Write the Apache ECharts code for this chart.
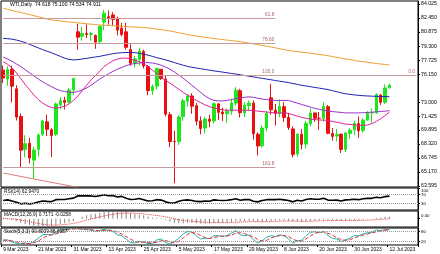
<!DOCTYPE html>
<html><head><meta charset="utf-8">
<script src="https://cdn.jsdelivr.net/npm/echarts@6/dist/echarts.min.js"></script>
<style>html,body{margin:0;padding:0;background:#fff}#c{width:440px;height:254px}</style>
</head><body><div id="c"></div><script>
const dates = ['9 Mar 2023','10 Mar 2023','13 Mar 2023','14 Mar 2023','15 Mar 2023','16 Mar 2023','17 Mar 2023','20 Mar 2023','21 Mar 2023','22 Mar 2023','23 Mar 2023','24 Mar 2023','27 Mar 2023','28 Mar 2023','29 Mar 2023','30 Mar 2023','31 Mar 2023',
'3 Apr 2023','4 Apr 2023','5 Apr 2023','6 Apr 2023','10 Apr 2023','11 Apr 2023','12 Apr 2023','13 Apr 2023','14 Apr 2023','17 Apr 2023','18 Apr 2023','19 Apr 2023','20 Apr 2023','21 Apr 2023','24 Apr 2023','25 Apr 2023','26 Apr 2023','27 Apr 2023','28 Apr 2023',
'1 May 2023','2 May 2023','3 May 2023','4 May 2023','5 May 2023','8 May 2023','9 May 2023','10 May 2023','11 May 2023','12 May 2023','15 May 2023','16 May 2023','17 May 2023','18 May 2023','19 May 2023','22 May 2023','23 May 2023','24 May 2023','25 May 2023','26 May 2023','29 May 2023','30 May 2023','31 May 2023',
'1 Jun 2023','2 Jun 2023','5 Jun 2023','6 Jun 2023','7 Jun 2023','8 Jun 2023','9 Jun 2023','12 Jun 2023','13 Jun 2023','14 Jun 2023','15 Jun 2023','16 Jun 2023','19 Jun 2023','20 Jun 2023','21 Jun 2023','22 Jun 2023','23 Jun 2023','26 Jun 2023','27 Jun 2023','28 Jun 2023','29 Jun 2023','30 Jun 2023',
'3 Jul 2023','4 Jul 2023','5 Jul 2023','6 Jul 2023','7 Jul 2023','10 Jul 2023','11 Jul 2023','12 Jul 2023'];

const opens  = [76.60,75.60,76.70,74.50,71.40,67.70,68.40,66.50,67.70,69.40,70.80,69.90,69.40,72.70,73.20,73.00,74.40,
80.90,80.40,80.70,80.60,80.50,79.80,82.00,82.60,82.80,82.40,81.30,80.90,78.90,77.40,77.80,78.70,77.00,74.30,74.80,
76.70,75.60,71.60,68.60,68.60,71.40,73.10,73.70,72.60,70.90,70.10,71.10,70.90,72.80,71.90,71.70,72.00,72.90,74.30,71.80,72.60,72.90,69.40,
68.10,70.10,73.50,72.10,71.70,72.50,71.30,70.00,67.20,69.40,68.30,70.60,71.80,71.20,71.20,72.50,69.50,69.20,69.40,67.70,69.50,69.90,
70.60,69.80,71.00,71.80,71.80,73.80,73.00,74.618];
const highs  = [77.11,77.04,77.09,74.90,71.75,69.30,68.99,68.00,69.50,71.00,71.60,70.08,72.95,73.55,73.62,74.60,75.72,
81.81,81.44,81.75,80.90,80.60,81.60,83.35,83.30,83.10,82.60,81.90,81.90,79.50,78.20,79.13,78.90,77.20,75.00,76.90,
76.70,76.00,71.90,69.80,71.55,73.40,73.90,74.00,72.90,71.40,71.30,71.60,73.00,72.90,72.40,72.30,73.40,74.70,74.50,73.00,73.20,73.20,69.60,
70.40,72.00,75.06,72.80,73.30,73.00,71.80,70.30,69.50,70.00,70.90,72.30,71.80,71.90,73.00,72.70,70.10,70.00,69.50,69.60,70.10,70.90,
71.40,71.20,72.00,72.30,74.00,73.90,75.00,75.100];
const lows   = [75.15,74.84,72.98,70.95,65.65,66.82,66.13,64.40,66.90,69.20,69.20,66.84,69.20,72.20,72.18,72.85,73.80,
78.90,79.90,80.20,79.90,79.00,79.50,81.10,81.70,81.60,80.50,80.40,78.90,77.10,76.90,77.10,76.80,73.80,73.80,74.40,
75.50,71.40,67.95,63.90,68.20,70.90,72.50,71.70,70.40,69.40,69.50,70.20,70.60,71.00,70.90,70.70,71.60,72.60,71.30,71.30,72.00,68.80,67.03,
67.90,69.70,71.60,70.40,71.30,70.80,69.90,66.80,66.90,67.70,67.80,70.30,70.80,69.90,70.80,69.40,68.70,68.60,67.30,67.40,68.90,69.30,
69.00,69.60,70.90,70.70,71.70,72.70,72.80,74.534];
const closes = [75.72,76.68,74.80,71.33,67.61,68.35,66.74,67.64,69.33,70.90,69.96,69.26,72.81,73.20,72.97,74.37,75.67,
80.30,80.71,80.61,80.70,79.74,81.53,83.00,82.40,82.30,81.10,80.60,79.16,77.37,77.87,78.76,77.07,74.30,74.76,76.78,
75.66,71.66,68.60,68.56,71.34,73.16,73.71,72.56,70.87,70.04,71.11,70.86,72.83,71.86,71.69,71.99,72.91,74.34,71.83,72.67,72.90,69.46,68.09,
70.10,71.74,72.15,71.74,72.53,71.29,70.17,67.12,69.42,68.27,70.62,71.78,71.20,71.19,72.53,69.51,69.16,69.37,67.70,69.56,69.86,70.64,
69.79,71.00,71.79,71.80,73.86,72.99,74.60,74.911];

const ma200 = [83.54,83.42,83.30,83.18,83.07,82.95,82.83,82.71,82.59,82.47,82.35,82.23,82.17,82.12,82.06,82.01,81.95,81.90,81.86,81.81,81.76,81.72,81.67,81.64,81.61,81.58,81.56,81.53,81.50,81.47,81.44,81.41,81.38,81.35,81.28,81.21,81.14,81.07,81.00,80.90,80.80,80.70,80.60,80.50,80.43,80.36,80.29,80.22,80.15,80.09,80.03,79.97,79.92,79.86,79.80,79.72,79.63,79.55,79.47,79.38,79.30,79.20,79.10,79.00,78.90,78.80,78.74,78.68,78.62,78.56,78.50,78.43,78.37,78.30,78.21,78.13,78.04,77.95,77.86,77.78,77.69,77.60,77.54,77.48,77.41,77.35,77.29,77.23,77.17];
const ma100 = [80.17,80.13,80.08,79.98,79.85,79.70,79.50,79.30,79.10,78.90,78.72,78.55,78.35,78.15,77.95,77.80,77.75,77.78,77.85,77.92,78.00,78.08,78.15,78.25,78.35,78.45,78.52,78.56,78.58,78.58,78.56,78.50,78.40,78.28,78.15,78.00,77.88,77.75,77.60,77.45,77.30,77.15,77.02,76.92,76.84,76.76,76.68,76.60,76.52,76.45,76.38,76.30,76.23,76.16,76.08,76.00,75.92,75.84,75.76,75.68,75.60,75.52,75.44,75.36,75.28,75.20,75.10,75.00,74.90,74.82,74.74,74.66,74.58,74.50,74.42,74.30,74.18,74.05,73.95,73.88,73.82,73.77,73.73,73.70,73.68,73.66,73.64,73.63,73.62];
const maViolet = [78.07,77.85,77.60,77.30,77.00,76.65,76.30,75.95,75.60,75.30,75.00,74.75,74.50,74.30,74.20,74.12,74.10,74.20,74.37,74.60,74.90,75.25,75.60,75.90,76.20,76.45,76.70,76.90,77.10,77.25,77.35,77.40,77.45,77.45,77.40,77.30,77.15,76.95,76.70,76.40,76.05,75.70,75.30,74.90,74.50,74.10,73.70,73.40,73.20,73.15,73.15,73.20,73.30,73.40,73.50,73.55,73.60,73.55,73.45,73.35,73.30,73.25,73.20,73.20,73.20,73.20,73.05,72.90,72.75,72.60,72.45,72.30,72.20,72.10,72.00,71.95,71.90,71.85,71.80,71.80,71.80,71.80,71.82,71.85,71.88,71.92,71.96,72.00,72.05];
const maMagenta = [77.55,77.25,76.85,76.30,75.65,75.00,74.40,73.80,73.30,72.90,72.60,72.40,72.35,72.40,72.55,72.80,73.20,73.70,74.30,74.90,75.50,76.00,76.50,77.00,77.35,77.65,77.85,77.95,77.95,77.85,77.70,77.55,77.30,77.00,76.60,76.20,75.80,75.45,75.15,74.80,74.45,74.10,73.80,73.50,73.20,72.95,72.70,72.50,72.35,72.25,72.15,72.10,72.10,72.10,72.10,72.10,72.10,72.05,72.00,71.95,71.90,71.85,71.80,71.80,71.80,71.75,71.60,71.45,71.30,71.20,71.10,71.05,71.00,71.00,70.95,70.85,70.75,70.65,70.55,70.50,70.45,70.40,70.40,70.45,70.60,70.85,71.15,71.50,71.90];

const rsi = [43,46,41,35,28,31,28,31,36,41,39,38,47,48,48,51,54,64,64,64,64,61,65,69,65,66,59,62,53,48,49,52,47,41,42,47,45,37,32,32,40,44,46,43,39,38,41,40,46,44,43,44,47,51,44,47,48,40,37,43,47,48,47,49,46,43,37,44,41,48,51,49,49,53,45,44,45,41,46,47,49,47,51,53,53,58,56,61,62.947];
const macdMain = [-0.25,-0.30,-0.45,-0.80,-1.35,-1.70,-2.05,-2.55,-2.69,-2.60,-2.50,-2.45,-2.10,-1.75,-1.45,-1.10,-0.75,0.00,0.60,1.05,1.40,1.55,1.80,2.10,2.25,2.45,2.35,2.30,2.10,1.75,1.50,1.35,1.10,0.70,0.40,0.30,0.10,-0.35,-0.95,-1.40,-1.50,-1.45,-1.35,-1.35,-1.45,-1.55,-1.55,-1.55,-1.40,-1.35,-1.30,-1.25,-1.10,-0.85,-0.85,-0.75,-0.65,-0.85,-1.10,-1.10,-0.95,-0.80,-0.70,-0.55,-0.55,-0.65,-0.95,-0.95,-1.05,-0.90,-0.70,-0.60,-0.50,-0.35,-0.45,-0.55,-0.60,-0.75,-0.70,-0.60,-0.50,-0.45,-0.30,-0.15,-0.05,0.25,0.35,0.60,0.7171];
const macdSignal = [0.10,0.02,-0.07,-0.21,-0.44,-0.69,-0.96,-1.28,-1.56,-1.80,-1.98,-2.10,-2.10,-2.02,-1.90,-1.74,-1.55,-1.24,-0.87,-0.48,-0.10,0.24,0.55,0.86,1.14,1.39,1.58,1.73,1.80,1.79,1.73,1.65,1.54,1.37,1.17,1.00,0.82,0.59,0.28,-0.06,-0.35,-0.57,-0.73,-0.85,-0.97,-1.09,-1.18,-1.26,-1.29,-1.30,-1.30,-1.29,-1.25,-1.17,-1.11,-1.04,-0.96,-0.94,-0.97,-1.00,-0.99,-0.95,-0.90,-0.83,-0.77,-0.75,-0.79,-0.82,-0.87,-0.88,-0.84,-0.79,-0.73,-0.66,-0.62,-0.60,-0.60,-0.63,-0.64,-0.63,-0.60,-0.57,-0.52,-0.47,-0.41,-0.33,-0.23,-0.13,-0.0258];
const stochMain = [25,30,18,10,5,12,8,20,40,60,62,58,75,88,90,95,97,95,93,90,88,80,85,92,85,80,60,55,35,15,12,22,18,8,10,30,35,15,5,20,40,65,80,75,55,35,40,38,55,55,50,55,70,85,60,55,58,30,12,25,45,55,50,60,55,35,12,25,28,55,75,78,72,80,55,40,35,20,30,40,55,55,65,72,75,88,85,90,90.8009];
const stochSignal = [30,28,24,19,11,9,8,13,23,40,54,60,65,74,84,91,94,96,95,93,90,86,84,86,87,86,75,65,50,35,21,16,17,16,12,16,25,27,18,13,22,42,62,73,70,55,43,38,44,49,53,53,58,70,72,67,58,48,33,22,27,42,50,55,55,50,34,24,22,36,53,69,75,77,69,58,43,32,28,30,42,50,58,64,71,78,83,88,88.6957];

const priceTicks = ['84.025','82.450','80.875','79.300','77.725','76.150','73.000','71.425','69.895','68.320','66.745','65.170','63.595'];
const rsiTicks = ['100','70','30','0'];
const macdTicks = ['2.4529','0.00','-2.6894'];
const stochTicks = ['100','80','20'];
const fibLevels = [82.45, 79.65, 76.00, 65.73];
const fibLabels = ['61.8','78.60','100.0','161.8'];
const fibRight = {level: 76.05, label: '0.0'};
const trendLine = [[0, 65.05], [17, 63.44]];
const header = 'WTI,Daily  74.618 75.100 74.534 74.911';
const lastPrice = 74.911;

const EXTRA = 6;
const cats = dates.concat(new Array(EXTRA).fill(''));
const candle = dates.map((d, i) => [opens[i], closes[i], lows[i], highs[i]]);

const FONT = 'Liberation Sans';
const GL = 1, GR = 22;
const grids = [
  {left: GL, right: GR, top: 1, height: 186},
  {left: GL, right: GR, top: 188, height: 22},
  {left: GL, right: GR, top: 211, height: 16},
  {left: GL, right: GR, top: 228, height: 17}
].map(g => Object.assign(g, {show: true, borderColor: '#000', borderWidth: 1, backgroundColor: '#fff'}));

const labelInterval = (idx) => idx % 8 === 0 && idx < dates.length;
function xAx(i, showLabels) {
  return {
    type: 'category', gridIndex: i, data: cats, boundaryGap: true,
    axisLine: {show: false},
    axisTick: {show: showLabels, length: 2, interval: labelInterval, lineStyle: {color: '#000'}},
    axisLabel: {show: showLabels, interval: labelInterval, align: 'left', margin: 2,
      fontFamily: FONT, fontSize: 5, color: '#000'},
    splitLine: {show: false}
  };
}
// per-label vertical nudge (px) mimicking the squeezed labels of the indicator windows
function yAx(i, min, max, ticks, size, shifts) {
  const rich = {};
  ticks.forEach((t, j) => {
    const s = (shifts && shifts[j]) || 0;
    rich['t' + j] = {fontFamily: FONT, fontSize: size, color: '#000',
      padding: s >= 0 ? [2 * s, 0, 0, 0] : [0, 0, -2 * s, 0]};
  });
  return {
    type: 'value', gridIndex: i, position: 'right', min: min, max: max,
    axisLine: {show: true, lineStyle: {color: '#000'}},
    axisTick: {show: true, length: 2, customValues: ticks.map(Number), lineStyle: {color: '#000'}},
    axisLabel: {show: true, margin: 3, customValues: ticks.map(Number), fontFamily: FONT, fontSize: size, color: '#000',
      rich: rich,
      formatter: (v) => { let bj = 0, bd = 1e9; ticks.forEach((t, j) => { const d = Math.abs(Number(t) - v); if (d < bd) { bd = d; bj = j; } }); return '{t' + bj + '|' + ticks[bj] + '}'; }},
    splitLine: {show: false}
  };
}

const k = 0.11225;
const TT = {fontFamily: FONT, fontSize: 4.8, color: '#000', fontWeight: 'normal'};
const option = {
  animation: false,
  backgroundColor: '#fff',
  grid: grids,
  xAxis: [xAx(0, false), xAx(1, false), xAx(2, false), xAx(3, true)],
  yAxis: [
    yAx(0, 63.595 - k, 84.025 + 3 * k, priceTicks, 5.2, null),
    yAx(1, 0, 100, rsiTicks, 4.4, [2.7, 0, 0, -4.5]),
    yAx(2, -2.6894, 2.4529, macdTicks, 4.4, [2, -2.4, -7.5]),
    yAx(3, 0, 100, stochTicks, 4.4, [1.5, 0, 0])
  ],
  title: [
    {text: header, left: 10, top: 2, padding: 0, textStyle: Object.assign({}, TT, {fontSize: 5.1})},
    {text: 'RSI(14) 62.9470', left: 4, top: 189, padding: 0, textStyle: TT},
    {text: 'MACD(12,26,9) 0.7171 -0.0258', left: 4, top: 212, padding: 0, textStyle: TT},
    {text: 'Stoch(5,3,3) 90.8009 88.6957', left: 4, top: 229, padding: 0, textStyle: TT}
  ],
  series: [
    {type: 'line', xAxisIndex: 0, yAxisIndex: 0, data: [], silent: true,
      markLine: {symbol: 'none', silent: true, animation: false,
        lineStyle: {color: '#c99a9a', width: 1, type: 'solid'},
        label: {show: true, position: 'insideEndTop', distance: 1, fontFamily: FONT, fontSize: 4.8, color: '#a66'},
        data: fibLevels.map((lv, j) => [{coord: [0, lv], label: {formatter: fibLabels[j]}}, {coord: [62, lv]}])
          .concat([[{coord: [0, fibRight.level], label: {formatter: fibRight.label}}, {coord: [cats.length - 1, fibRight.level]}]])
      }},
    {type: 'line', xAxisIndex: 0, yAxisIndex: 0, data: trendLine, symbol: 'none', lineStyle: {color: '#e07a7a', width: 1}, clip: true},
    {type: 'line', xAxisIndex: 0, yAxisIndex: 0, data: ma200, symbol: 'none', lineStyle: {color: '#f0a030', width: 1}},
    {type: 'line', xAxisIndex: 0, yAxisIndex: 0, data: ma100, symbol: 'none', lineStyle: {color: '#2020b0', width: 1}},
    {type: 'line', xAxisIndex: 0, yAxisIndex: 0, data: maViolet, symbol: 'none', lineStyle: {color: '#9a30c8', width: 1}},
    {type: 'line', xAxisIndex: 0, yAxisIndex: 0, data: maMagenta, symbol: 'none', lineStyle: {color: '#e0209a', width: 1}},
    {type: 'candlestick', xAxisIndex: 0, yAxisIndex: 0, data: candle, barWidth: 3,
      itemStyle: {color: '#1ee61e', color0: '#e81010', borderColor: '#1ee61e', borderColor0: '#e81010', borderWidth: 1},
      markLine: {symbol: 'none', silent: true, lineStyle: {opacity: 0},
        label: {show: true, position: 'end', distance: 1, formatter: lastPrice.toFixed(3), backgroundColor: '#000', color: '#fff', padding: [1, 1, 0, 1], fontFamily: FONT, fontSize: 5.2},
        data: [{yAxis: lastPrice}]}},
    {type: 'line', xAxisIndex: 1, yAxisIndex: 1, data: rsi, symbol: 'none', lineStyle: {color: '#000', width: 1.6},
      markLine: {symbol: 'none', silent: true, label: {show: false}, lineStyle: {color: '#999', type: 'dotted', width: 1}, data: [{yAxis: 70}, {yAxis: 30}]}},
    {type: 'bar', xAxisIndex: 2, yAxisIndex: 2, data: macdMain, barWidth: 1, itemStyle: {color: '#888'}},
    {type: 'line', xAxisIndex: 2, yAxisIndex: 2, data: macdSignal, symbol: 'none', lineStyle: {color: '#e03030', width: 1, type: 'dotted'}},
    {type: 'line', xAxisIndex: 3, yAxisIndex: 3, data: stochMain, symbol: 'none', lineStyle: {color: '#20b2aa', width: 1},
      markLine: {symbol: 'none', silent: true, label: {show: false}, lineStyle: {color: '#999', type: 'dotted', width: 1}, data: [{yAxis: 80}, {yAxis: 20}]}},
    {type: 'line', xAxisIndex: 3, yAxisIndex: 3, data: stochSignal, symbol: 'none', lineStyle: {color: '#e03030', width: 1, type: 'dashed'}}
  ]
};
const chart = echarts.init(document.getElementById('c'));
chart.setOption(option);
</script></body></html>
